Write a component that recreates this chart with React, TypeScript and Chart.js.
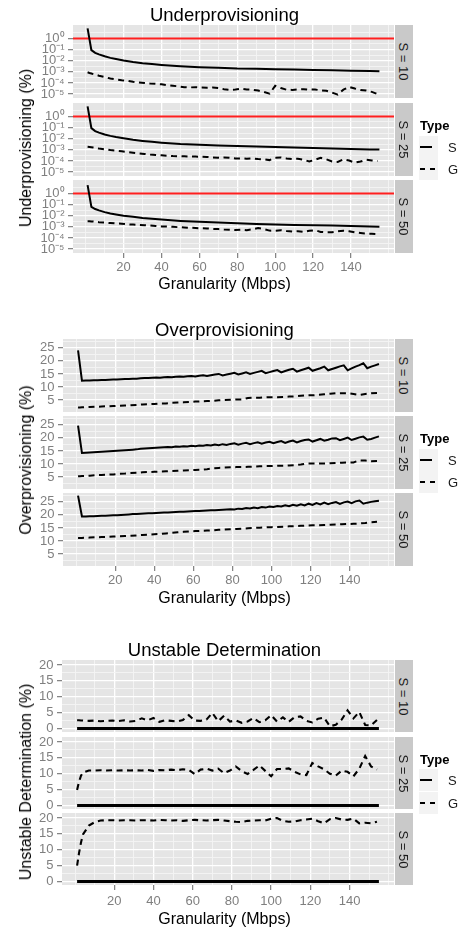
import React, { useEffect, useRef } from "react";
import { Chart, registerables } from "chart.js";

Chart.register(...registerables);

// ------------------------------------------------------------------ data
const FACETS = ["S = 10", "S = 25", "S = 50"];
const TYPES = ["S", "G"];
const LEGEND_TITLE = "Type";
const X_TITLE = "Granularity (Mbps)";

const X_MIN = -6.7;
const X_MAX = 162.7;
const GRANULARITY_TICKS = [20, 40, 60, 80, 100, 120, 140];
const GRANULARITY_GRID = [0, 10, 20, 30, 40, 50, 60, 70, 80, 90, 100, 110, 120, 130, 140, 150, 160];

// 1 % threshold drawn in red on the underprovisioning panels
const UNDER_THRESHOLD = 1;

// granularity samples
const X_UNDER_S = [1, 3, 5, 7, 10, 13, 16, 20, 25, 30, 35, 40, 50, 60, 70, 80, 90, 100, 110, 120, 130, 140, 150, 155];
const X_G = [
  1, 2, 3, 4, 7, 10, 13, 16, 19, 22,
  25, 28, 31, 34, 37, 40, 43, 46, 49, 52,
  55, 58, 61, 64, 67, 70, 73, 76, 79, 82,
  85, 88, 91, 94, 97, 100, 103, 106, 109, 112,
  115, 118, 121, 124, 127, 130, 133, 136, 139, 142,
  145, 148, 151, 154,
];
const X_OVER_S = [
  1, 3, 5, 7, 9, 11, 13, 15, 17, 19,
  21, 23, 25, 27, 29, 31, 33, 35, 37, 39,
  41, 43, 45, 47, 49, 51, 53, 55, 57, 59,
  61, 63, 65, 67, 69, 71, 73, 75, 77, 79,
  81, 83, 85, 87, 89, 91, 93, 95, 97, 99,
  101, 103, 105, 107, 109, 111, 113, 115, 117, 119,
  121, 123, 125, 127, 129, 131, 133, 135, 137, 139,
  141, 143, 145, 147, 149, 151, 153, 155,
];
const X_UNSTABLE_S = [1, 155];

// Underprovisioning (%)
const UNDER_S_10 = [7.9, 0.089, 0.05, 0.037, 0.025, 0.018, 0.0145, 0.0105, 0.0076, 0.006, 0.005, 0.0042, 0.0032, 0.0026, 0.0023, 0.002, 0.0019, 0.0017, 0.0016, 0.0015, 0.0014, 0.00126, 0.00117, 0.00112];
const UNDER_S_25 = [8.0, 0.089, 0.048, 0.035, 0.024, 0.018, 0.014, 0.011, 0.0079, 0.0063, 0.0052, 0.0044, 0.0034, 0.0029, 0.0025, 0.0022, 0.002, 0.0018, 0.0016, 0.0015, 0.0013, 0.0012, 0.0011, 0.00105];
const UNDER_S_50 = [5.6, 0.063, 0.04, 0.03, 0.021, 0.016, 0.013, 0.01, 0.0079, 0.0063, 0.0053, 0.0045, 0.0034, 0.0028, 0.0024, 0.0021, 0.0018, 0.0016, 0.0015, 0.0014, 0.0013, 0.0012, 0.00105, 0.001];
const UNDER_G_10 = [
  9.1e-4, 7.9e-4, 7.1e-4, 6.3e-4, 4.5e-4, 3.5e-4, 2.5e-4, 2.1e-4, 1.8e-4, 1.6e-4,
  1.3e-4, 1.1e-4, 1.0e-4, 8.9e-5, 8.3e-5, 7.6e-5, 6.3e-5, 5.6e-5, 5.0e-5, 4.2e-5,
  4.0e-5, 4.2e-5, 4.0e-5, 3.8e-5, 4.0e-5, 3.5e-5, 2.8e-5, 2.4e-5, 2.6e-5, 3.0e-5,
  2.6e-5, 2.5e-5, 2.1e-5, 1.6e-5, 1.1e-5, 5.6e-5, 3.5e-5, 2.5e-5, 2.4e-5, 2.6e-5,
  2.8e-5, 2.5e-5, 2.6e-5, 2.2e-5, 2.0e-5, 1.4e-5, 8.9e-6, 2.5e-5, 4.5e-5, 3.2e-5,
  2.4e-5, 2.1e-5, 1.6e-5, 1.0e-5,
];
const UNDER_G_25 = [
  1.9e-3, 1.8e-3, 1.7e-3, 1.6e-3, 1.3e-3, 1.1e-3, 9.5e-4, 8.5e-4, 7.4e-4, 6.3e-4,
  5.4e-4, 4.7e-4, 4.3e-4, 3.8e-4, 3.5e-4, 3.2e-4, 3.0e-4, 2.8e-4, 2.7e-4, 2.6e-4,
  2.5e-4, 2.5e-4, 2.4e-4, 2.3e-4, 2.1e-4, 2.0e-4, 2.1e-4, 1.9e-4, 1.7e-4, 1.7e-4,
  1.6e-4, 1.7e-4, 1.5e-4, 1.4e-4, 1.2e-4, 2.0e-4, 2.1e-4, 1.7e-4, 1.5e-4, 1.6e-4,
  1.3e-4, 8.9e-5, 1.3e-4, 1.9e-4, 1.4e-4, 8.9e-5, 8.3e-5, 1.4e-4, 1.1e-4, 7.1e-5,
  8.9e-5, 1.3e-4, 1.1e-4, 1.0e-4,
];
const UNDER_G_50 = [
  3.2e-3, 3.2e-3, 3.0e-3, 3.0e-3, 2.6e-3, 2.4e-3, 2.2e-3, 2.0e-3, 1.9e-3, 1.7e-3,
  1.6e-3, 1.5e-3, 1.4e-3, 1.3e-3, 1.2e-3, 1.1e-3, 1.07e-3, 1.0e-3, 9.3e-4, 8.9e-4,
  8.3e-4, 7.9e-4, 7.4e-4, 7.1e-4, 6.6e-4, 6.3e-4, 5.8e-4, 5.5e-4, 5.2e-4, 5.6e-4,
  5.0e-4, 6.0e-4, 7.9e-4, 6.3e-4, 4.6e-4, 4.5e-4, 5.0e-4, 4.2e-4, 3.8e-4, 4.0e-4,
  3.5e-4, 4.5e-4, 5.0e-4, 3.5e-4, 3.2e-4, 3.3e-4, 4.0e-4, 4.5e-4, 4.0e-4, 3.2e-4,
  2.8e-4, 2.5e-4, 2.4e-4, 2.3e-4,
];

// Overprovisioning (%)
const OVER_S_10 = [
  24.0, 12.4, 12.5, 12.5, 12.6, 12.6, 12.7, 12.7, 12.8, 12.9,
  12.9, 13.0, 13.1, 13.1, 13.2, 13.2, 13.3, 13.4, 13.4, 13.5,
  13.6, 13.5, 13.7, 13.8, 13.7, 13.9, 14.0, 13.9, 14.1, 14.2,
  14.0, 14.3, 14.5, 14.2, 14.5, 14.8, 15.0, 14.4, 14.8, 15.1,
  15.4, 14.8, 15.2, 15.6, 15.0, 15.4, 15.8, 16.2, 15.3, 15.7,
  16.1, 16.5, 15.6, 16.1, 16.6, 17.0, 15.9, 16.4, 16.9, 17.4,
  16.2, 16.7, 17.2, 17.8, 16.4, 16.9, 17.4, 17.9, 18.3, 16.4,
  17.1, 17.8, 18.4, 19.1, 17.2, 17.8, 18.3, 18.8,
];
const OVER_S_25 = [
  24.7, 14.2, 14.3, 14.4, 14.5, 14.6, 14.7, 14.8, 14.9, 15.0,
  15.1, 15.2, 15.3, 15.4, 15.5, 15.6, 15.8, 15.9, 16.0, 16.1,
  16.2, 16.3, 16.4, 16.5, 16.4, 16.7, 16.6, 16.8, 16.7, 17.0,
  16.8, 17.1, 17.0, 17.3, 17.1, 17.5, 17.2, 17.6, 17.3, 17.7,
  17.9, 17.4, 17.8, 18.1, 17.6, 18.0, 18.3, 17.8, 18.2, 18.5,
  18.0, 18.4, 18.8, 18.1, 18.6, 19.0, 18.3, 18.8, 19.2, 19.4,
  18.6, 19.1, 19.6, 18.9, 19.3, 19.8, 19.9, 19.1, 19.6, 20.1,
  19.2, 19.7, 20.2, 20.5, 19.3, 19.6, 20.1, 20.6,
];
const OVER_S_50 = [
  27.4, 19.4, 19.4, 19.5, 19.5, 19.6, 19.7, 19.7, 19.8, 19.9,
  19.9, 20.0, 20.1, 20.2, 20.3, 20.3, 20.4, 20.5, 20.6, 20.6,
  20.7, 20.8, 20.9, 20.9, 21.0, 21.1, 21.2, 21.2, 21.3, 21.4,
  21.5, 21.5, 21.6, 21.7, 21.8, 21.8, 21.9, 22.0, 22.1, 22.2,
  22.1, 22.4, 22.3, 22.6, 22.5, 22.8, 22.6, 23.0, 22.8, 23.2,
  23.0, 23.4, 23.2, 23.7, 23.3, 23.9, 23.5, 24.1, 23.6, 24.3,
  23.8, 24.5, 24.0, 24.7, 24.1, 24.6, 24.9, 24.2, 24.8, 25.1,
  24.5, 25.2, 25.5, 24.3, 24.7, 25.0, 25.2, 25.4,
];
const OVER_G_10 = [
  2.1, 2.1, 2.2, 2.2, 2.3, 2.4, 2.5, 2.6, 2.7, 2.8,
  2.9, 3.0, 3.1, 3.3, 3.4, 3.5, 3.7, 3.7, 3.9, 4.0,
  4.1, 4.2, 4.4, 4.5, 4.6, 4.7, 4.9, 5.0, 5.1, 5.2,
  5.2, 5.8, 5.9, 5.9, 6.0, 6.1, 6.1, 6.2, 6.3, 6.4,
  6.6, 6.8, 6.8, 7.0, 7.2, 7.4, 7.6, 7.6, 7.6, 7.3,
  6.9, 7.3, 7.6, 7.7,
];
const OVER_G_25 = [
  5.3, 5.3, 5.4, 5.4, 5.5, 5.7, 5.8, 5.9, 6.0, 6.2,
  6.3, 6.5, 6.6, 6.8, 6.9, 7.0, 7.1, 7.2, 7.3, 7.4,
  7.5, 7.6, 7.7, 7.8, 8.0, 8.3, 8.5, 8.6, 8.7, 8.8,
  8.8, 8.9, 9.0, 9.1, 9.2, 9.2, 9.3, 9.3, 9.4, 9.5,
  9.8, 10.2, 10.2, 10.2, 10.2, 10.3, 10.4, 10.5, 10.6, 10.6,
  11.4, 11.3, 11.0, 11.1,
];
const OVER_G_50 = [
  11.1, 11.1, 11.1, 11.2, 11.3, 11.4, 11.5, 11.6, 11.7, 11.8,
  11.9, 12.0, 12.1, 12.3, 12.4, 12.6, 12.7, 12.9, 13.1, 13.3,
  13.5, 13.7, 13.8, 13.9, 14.0, 14.1, 14.3, 14.4, 14.5, 14.6,
  14.7, 14.9, 15.0, 15.1, 15.2, 15.3, 15.4, 15.5, 15.6, 15.7,
  15.8, 15.9, 16.0, 16.0, 16.1, 16.2, 16.3, 16.4, 16.5, 16.6,
  16.7, 16.9, 17.2, 17.4,
];

// Unstable Determination (%)
const UNSTABLE_S_10 = [0, 0];
const UNSTABLE_S_25 = [0, 0];
const UNSTABLE_S_50 = [0, 0];
const UNSTABLE_G_10 = [
  2.6, 2.6, 2.5, 2.5, 2.4, 2.5, 2.3, 2.4, 2.5, 2.3,
  2.6, 2.2, 2.4, 3.2, 2.6, 3.3, 2.1, 2.6, 2.4, 2.2,
  2.7, 4.2, 2.5, 2.4, 2.8, 4.9, 2.3, 4.0, 2.2, 2.5,
  1.8, 2.2, 3.3, 2.0, 2.6, 4.2, 2.2, 3.5, 2.1, 3.6,
  3.8, 2.4, 1.9, 3.1, 3.4, 0.7, 1.2, 2.8, 5.7, 3.2,
  5.2, 1.1, 1.0, 2.7,
];
const UNSTABLE_G_25 = [
  4.9, 7.5, 9.4, 10.4, 11.0, 11.0, 11.1, 11.0, 11.1, 11.0,
  11.1, 11.0, 11.1, 11.0, 11.2, 10.9, 11.2, 11.1, 11.3, 11.1,
  11.4, 11.2, 9.9, 11.3, 11.6, 11.0, 11.6, 10.2, 11.0, 12.3,
  10.8, 9.9, 11.2, 12.6, 10.9, 9.2, 11.5, 11.5, 11.7, 10.6,
  9.8, 9.6, 13.4, 12.3, 11.4, 10.0, 9.4, 11.0, 10.6, 9.2,
  11.6, 15.6, 12.3, 11.3,
];
const UNSTABLE_G_50 = [
  5.0, 9.0, 12.3, 14.8, 17.6, 18.7, 19.2, 19.3, 19.3, 19.2,
  19.3, 19.3, 19.2, 19.3, 19.3, 19.2, 19.4, 19.3, 19.2, 19.3,
  19.1, 19.3, 19.4, 19.3, 19.2, 19.3, 19.4, 19.2, 19.0, 18.8,
  18.7, 19.1, 19.2, 19.3, 19.2, 19.8, 20.0, 19.1, 18.8, 18.9,
  19.3, 19.5, 19.8, 19.0, 18.3, 19.6, 20.0, 19.5, 19.4, 19.8,
  18.3, 18.5, 18.3, 18.8,
];

// y axes
const UNDER_Y_MAJOR = [1e-5, 1e-4, 1e-3, 1e-2, 1e-1, 1];
const UNDER_Y_MINOR = [3.16e-5, 3.16e-4, 3.16e-3, 3.16e-2, 0.316, 3.16];
const UNDER_Y_LABELS = ["10⁻⁵", "10⁻⁴", "10⁻³", "10⁻²", "10⁻¹", "10⁰"];
const OVER_Y_MAJOR = [5, 10, 15, 20, 25];
const OVER_Y_MINOR = [2.5, 7.5, 12.5, 17.5, 22.5, 27.5];
const OVER_Y_LABELS = ["5", "10", "15", "20", "25"];
const UNST_Y_MAJOR = [0, 5, 10, 15, 20];
const UNST_Y_MINOR = [2.5, 7.5, 12.5, 17.5];
const UNST_Y_LABELS = ["0", "5", "10", "15", "20"];

// ------------------------------------------------------------------ layout / style
const FONT = '"Liberation Sans", Arial, Helvetica, sans-serif';
const PANEL_RIGHT = 394;
const PAD_T = 12;
const PAD_B = 12;
const PAD_R = 10;
const X_AXIS_H = 32;
const PANEL_BG = "#E5E5E5";
const GRID_MAJOR = "#FFFFFF";
const GRID_MINOR = "#F4F4F4";
const TICK_COL = "#7F7F7F";
const STRIP_BG = "#C9C9C9";

type LineSpec = { xs: number[]; ys: number[]; kind: "S" | "G" | "ref" };

const PLOTS = [
  {
    title: "Underprovisioning",
    yTitle: "Underprovisioning (%)",
    titleY: 14.5, yTitleX: 26, yTitleY: 148, xTitleY: 284,
    axisW: 73, tops: [25, 103, 180], h: 73, xPad: 1.2,
    legendY: 125.3,
    y: { type: "logarithmic", min: 4.5e-6, max: 16, major: UNDER_Y_MAJOR, minor: UNDER_Y_MINOR, labels: UNDER_Y_LABELS },
    sW: 2, gW: 2,
    panels: [
      [
        { xs: X_UNDER_S, ys: UNDER_S_10, kind: "S" },
        { xs: X_G, ys: UNDER_G_10, kind: "G" },
        { xs: [X_MIN, X_MAX], ys: [UNDER_THRESHOLD, UNDER_THRESHOLD], kind: "ref" },
      ],
      [
        { xs: X_UNDER_S, ys: UNDER_S_25, kind: "S" },
        { xs: X_G, ys: UNDER_G_25, kind: "G" },
        { xs: [X_MIN, X_MAX], ys: [UNDER_THRESHOLD, UNDER_THRESHOLD], kind: "ref" },
      ],
      [
        { xs: X_UNDER_S, ys: UNDER_S_50, kind: "S" },
        { xs: X_G, ys: UNDER_G_50, kind: "G" },
        { xs: [X_MIN, X_MAX], ys: [UNDER_THRESHOLD, UNDER_THRESHOLD], kind: "ref" },
      ],
    ] as LineSpec[][],
  },
  {
    title: "Overprovisioning",
    yTitle: "Overprovisioning (%)",
    titleY: 329.5, yTitleX: 25.5, yTitleY: 460, xTitleY: 597.5,
    axisW: 63, tops: [339, 416, 493], h: 73, xPad: 1.2,
    legendY: 438,
    y: { type: "linear", min: 0.4, max: 28.4, major: OVER_Y_MAJOR, minor: OVER_Y_MINOR, labels: OVER_Y_LABELS },
    sW: 2, gW: 2,
    panels: [
      [{ xs: X_OVER_S, ys: OVER_S_10, kind: "S" }, { xs: X_G, ys: OVER_G_10, kind: "G" }],
      [{ xs: X_OVER_S, ys: OVER_S_25, kind: "S" }, { xs: X_G, ys: OVER_G_25, kind: "G" }],
      [{ xs: X_OVER_S, ys: OVER_S_50, kind: "S" }, { xs: X_G, ys: OVER_G_50, kind: "G" }],
    ] as LineSpec[][],
  },
  {
    title: "Unstable Determination",
    yTitle: "Unstable Determination (%)",
    titleY: 649.5, yTitleX: 25.5, yTitleY: 782, xTitleY: 919,
    axisW: 62, tops: [660, 737, 813], h: 72, xPad: 3.5,
    legendY: 758.7,
    y: { type: "linear", min: -1.1, max: 21.57, major: UNST_Y_MAJOR, minor: UNST_Y_MINOR, labels: UNST_Y_LABELS },
    sW: 2.8, gW: 2.1,
    panels: [
      [{ xs: X_UNSTABLE_S, ys: UNSTABLE_S_10, kind: "S" }, { xs: X_G, ys: UNSTABLE_G_10, kind: "G" }],
      [{ xs: X_UNSTABLE_S, ys: UNSTABLE_S_25, kind: "S" }, { xs: X_G, ys: UNSTABLE_G_25, kind: "G" }],
      [{ xs: X_UNSTABLE_S, ys: UNSTABLE_S_50, kind: "S" }, { xs: X_G, ys: UNSTABLE_G_50, kind: "G" }],
    ] as LineSpec[][],
  },
];

const panelBg = {
  id: "panelBg",
  beforeDraw(chart: any) {
    const a = chart.chartArea;
    const ctx = chart.ctx;
    ctx.save();
    ctx.fillStyle = PANEL_BG;
    ctx.fillRect(a.left, a.top, a.right - a.left, a.bottom - a.top);
    ctx.restore();
  },
};

function Panel(props: any) {
  const { axisW, top, h, showX, xPad, y, lines, sW, gW } = props;
  const ref = useRef<HTMLCanvasElement>(null);
  const W = PANEL_RIGHT + PAD_R;
  const H = PAD_T + h + (showX ? X_AXIS_H : PAD_B);

  useEffect(() => {
    const canvas = ref.current;
    if (!canvas) return;
    const yTicks = [...y.minor, ...y.major].sort((a: number, b: number) => a - b);
    const yLabel = new Map<number, string>(y.major.map((v: number, i: number) => [v, y.labels[i]]));
    const isXMajor = (v: number) => GRANULARITY_TICKS.includes(v);
    const isYMajor = (v: number) => yLabel.has(v);

    const datasets = (lines as LineSpec[]).map((l) => ({
      data: l.xs.map((x, i) => ({ x, y: l.ys[i] })),
      borderColor: l.kind === "ref" ? "#FF1F1F" : "#000000",
      borderWidth: l.kind === "ref" ? 2 : l.kind === "S" ? sW : gW,
      borderDash: l.kind === "G" ? [6, 4.5] : [],
      pointRadius: 0,
      pointHoverRadius: 0,
      tension: 0,
      fill: false,
    }));

    const chart = new Chart(canvas, {
      type: "line",
      data: { datasets },
      options: {
        animation: false,
        responsive: false,
        devicePixelRatio: 1,
        events: [],
        layout: { padding: { top: PAD_T, bottom: showX ? 0 : PAD_B, left: 0, right: PAD_R } },
        plugins: { legend: { display: false }, tooltip: { enabled: false }, title: { display: false } },
        scales: {
          x: {
            type: "linear",
            min: X_MIN,
            max: X_MAX,
            afterBuildTicks: (s: any) => {
              s.ticks = GRANULARITY_GRID.map((v) => ({ value: v }));
            },
            afterFit: (s: any) => {
              s.height = showX ? X_AXIS_H : 0;
            },
            border: { display: false },
            grid: {
              color: (c: any) => (isXMajor(c.tick?.value) ? GRID_MAJOR : GRID_MINOR),
              lineWidth: (c: any) => (isXMajor(c.tick?.value) ? 1.3 : 0.9),
              drawTicks: showX,
              tickLength: 5,
              tickWidth: 1.2,
              tickColor: (c: any) => (isXMajor(c.tick?.value) ? TICK_COL : "rgba(0,0,0,0)"),
            },
            ticks: {
              display: showX,
              autoSkip: false,
              maxRotation: 0,
              minRotation: 0,
              padding: xPad,
              color: TICK_COL,
              font: { family: FONT, size: 13 },
              callback: (v: any) => (isXMajor(Number(v)) ? String(v) : ""),
            },
          },
          y: {
            type: y.type,
            position: "left",
            min: y.min,
            max: y.max,
            afterBuildTicks: (s: any) => {
              s.ticks = yTicks.map((v: number) => ({ value: v }));
            },
            afterFit: (s: any) => {
              s.width = axisW;
            },
            border: { display: false },
            grid: {
              color: (c: any) => (isYMajor(c.tick?.value) ? GRID_MAJOR : GRID_MINOR),
              lineWidth: (c: any) => (isYMajor(c.tick?.value) ? 1.3 : 0.9),
              drawTicks: true,
              tickLength: 5,
              tickWidth: 1.2,
              tickColor: (c: any) => (isYMajor(c.tick?.value) ? TICK_COL : "rgba(0,0,0,0)"),
            },
            ticks: {
              autoSkip: false,
              padding: 3.5,
              color: TICK_COL,
              font: { family: FONT, size: 13 },
              callback: (v: any) => yLabel.get(Number(v)) ?? "",
            },
          },
        },
      } as any,
      plugins: [panelBg],
    });
    return () => chart.destroy();
  }, []);

  return (
    <canvas
      ref={ref}
      width={W}
      height={H}
      style={{ position: "absolute", left: 0, top: top - PAD_T, width: W, height: H }}
    />
  );
}

const centerText = (x: number, y: number, extra: any = {}): any => ({
  position: "absolute",
  left: x,
  top: y,
  transform: "translate(-50%, -50%)",
  whiteSpace: "nowrap",
  lineHeight: 1,
  fontFamily: FONT,
  color: "#000",
  ...extra,
});

function Plot({ cfg }: { cfg: any }) {
  return (
    <>
      {cfg.panels.map((lines: LineSpec[], i: number) => (
        <Panel
          key={"p" + i}
          axisW={cfg.axisW}
          top={cfg.tops[i]}
          h={cfg.h}
          showX={i === cfg.panels.length - 1}
          xPad={cfg.xPad}
          y={cfg.y}
          lines={lines}
          sW={cfg.sW}
          gW={cfg.gW}
        />
      ))}
      {FACETS.map((f, i) => (
        <div
          key={"s" + i}
          style={{
            position: "absolute",
            left: PANEL_RIGHT + 1,
            top: cfg.tops[i],
            width: 18,
            height: cfg.h,
            background: STRIP_BG,
            display: "flex",
            alignItems: "center",
            justifyContent: "center",
          }}
        >
          <div style={{ transform: "rotate(90deg)", whiteSpace: "nowrap", fontFamily: FONT, fontSize: 13, lineHeight: 1, color: "#1A1A1A" }}>
            {f}
          </div>
        </div>
      ))}
      <div style={centerText(224.5, cfg.titleY, { fontSize: 18.5 })}>{cfg.title}</div>
      <div style={centerText(224.5, cfg.xTitleY, { fontSize: 16 })}>{X_TITLE}</div>
      <div style={centerText(cfg.yTitleX, cfg.yTitleY, { fontSize: 16, transform: "translate(-50%, -50%) rotate(-90deg)" })}>
        {cfg.yTitle}
      </div>
      <div
        style={{
          position: "absolute",
          left: 420,
          top: cfg.legendY,
          transform: "translateY(-50%)",
          fontFamily: FONT,
          fontWeight: "bold",
          fontSize: 13,
          lineHeight: 1,
          whiteSpace: "nowrap",
        }}
      >
        {LEGEND_TITLE}
      </div>
      {TYPES.map((t, i) => {
        const cy = cfg.legendY + 21.5 + i * 22.5;
        return (
          <React.Fragment key={"l" + i}>
            <div style={{ position: "absolute", left: 419, top: cy - 11, width: 19, height: 22, background: "#F3F3F3" }} />
            <svg style={{ position: "absolute", left: 420, top: cy - 2 }} width={17} height={4}>
              <line
                x1={0}
                y1={2}
                x2={t === "S" ? 12 : 15}
                y2={2}
                stroke="#000"
                strokeWidth={2}
                strokeDasharray={t === "G" ? "5 5" : undefined}
              />
            </svg>
            <div
              style={{
                position: "absolute",
                left: 448,
                top: cy,
                transform: "translateY(-50%)",
                fontFamily: FONT,
                fontSize: 13,
                lineHeight: 1,
                color: "#1A1A1A",
              }}
            >
              {t}
            </div>
          </React.Fragment>
        );
      })}
    </>
  );
}

export default function App() {
  return (
    <div
      style={{
        position: "absolute",
        left: 0,
        top: 0,
        width: 459,
        height: 928,
        background: "#FFFFFF",
        overflow: "hidden",
      }}
    >
      {PLOTS.map((cfg, i) => (
        <Plot key={i} cfg={cfg} />
      ))}
    </div>
  );
}
